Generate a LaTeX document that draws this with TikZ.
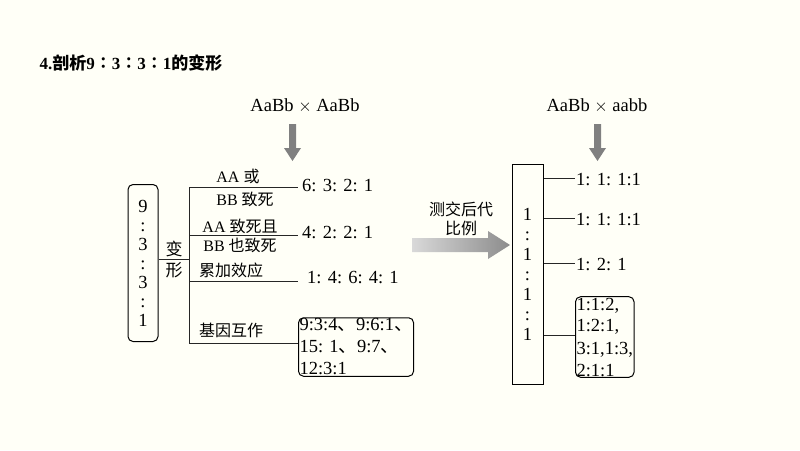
\documentclass[tikz,border=0pt]{standalone}
\usepackage{fontspec}
\setmainfont{Liberation Serif}
\newfontfamily\cjk{Noto Sans CJK SC}
\begin{document}
\begin{tikzpicture}[x=1pt,y=-1pt,
  txt/.style={font=\fontsize{18.5}{22}\selectfont,inner sep=1pt},
  ln/.style={line width=1pt,black!85},
  bx/.style={draw,line width=1pt,rounded corners=5pt,inner sep=5pt}]
\useasboundingbox[fill=white!97!yellow] (0,0) rectangle (800,450);
\node[anchor=west,font=\fontsize{17}{19}\selectfont\bfseries] (title) at (36,63) {4.{\cjk 剖析}9{\cjk ∶}3{\cjk ∶}3{\cjk ∶}1{\cjk 的变形}};
% top formulas
\node[txt] (f1) at (305,106) {AaBb $\times$ AaBb};
\node[txt] (f2) at (597,106) {AaBb $\times$ aabb};
\fill[gray] (289,124) rectangle (296,148) (284,148) -- (301,148) -- (292.5,161) -- cycle;
\fill[gray] (594,124) rectangle (601,148) (589,148) -- (606,148) -- (597.5,161) -- cycle;
% left box
\node[bx,minimum width=30pt,minimum height=157pt,align=center,txt,font=\fontsize{18.5}{19}\selectfont] (L) at (143,263) {9\\:\\3\\:\\3\\:\\1};
\draw[ln] (L.east |- 0,259) -- (189,259);
\node[txt,align=center,font=\fontsize{17}{21}\selectfont] (bx) at (174,260) {\cjk 变\\\cjk 形};
\coordinate (t1) at (189,187); \coordinate (t4) at (189,343);
\draw[ln] (t1) -- (t4);
\node[txt,anchor=west] (r1) at (301,186) {6: 3: 2: 1};
\node[txt,anchor=west] (r2) at (301,233) {4: 2: 2: 1};
\node[txt,anchor=west] (r3) at (306,278) {1: 4: 6: 4: 1};
\node[bx,txt,align=left,anchor=west] (r4) at (298,347) {9:3:4{\cjk 、}9:6:1{\cjk 、}\\15: 1{\cjk 、}9:7{\cjk 、}\\12:3:1};
\draw[ln] (t1) -- (298,187);
\draw[ln] (189,235) -- (298,235);
\draw[ln] (189,281) -- (298,281);
\draw[ln] (t4) -- (t4 -| r4.west);
\node[txt,font=\fontsize{16}{18}\selectfont] (l1a) at (238,176) {AA {\cjk 或}};
\node[txt,font=\fontsize{16}{18}\selectfont] (l1b) at (245,199) {BB {\cjk 致死}};
\node[txt,font=\fontsize{16}{18}\selectfont] (l2a) at (240,226) {AA {\cjk 致死且}};
\node[txt,font=\fontsize{16}{18}\selectfont] (l2b) at (240,245) {BB {\cjk 也致死}};
\node[txt,anchor=west,font=\fontsize{16}{18}\selectfont] (l3) at (198,270) {\cjk 累加效应};
\node[txt,anchor=west,font=\fontsize{16}{18}\selectfont] (l4) at (198,330) {\cjk 基因互作};
% big arrow
\node[txt,align=center,font=\fontsize{16}{19}\selectfont] (am) at (461,219) {\cjk 测交后代\\\cjk 比例};
\shade[left color=gray!30,right color=gray!90] (412,238) -- (488,238) -- (488,231) -- (510,245) -- (488,259) -- (488,252) -- (412,252) -- cycle;
% right box
\node[draw,line width=1pt,minimum width=31pt,minimum height=220pt,align=center,txt,font=\fontsize{18.5}{20}\selectfont] (R) at (527.5,274) {1\\:\\1\\:\\1\\:\\1};
\node[txt,anchor=west] (s1) at (575,180) {1: 1: 1:1};
\node[txt,anchor=west] (s2) at (575,220) {1: 1: 1:1};
\node[txt,anchor=west] (s3) at (575,265) {1: 2: 1};
\node[bx,txt,align=left,anchor=west] (s4) at (575,337) {1:1:2,\\1:2:1,\\3:1,1:3,\\2:1:1};
\draw[ln] (R.east |- 0,178) -- (575,178);
\draw[ln] (R.east |- 0,218) -- (575,218);
\draw[ln] (R.east |- 0,263) -- (575,263);
\draw[ln] (R.east |- 0,335) -- (575,335);
\end{tikzpicture}
\end{document}
